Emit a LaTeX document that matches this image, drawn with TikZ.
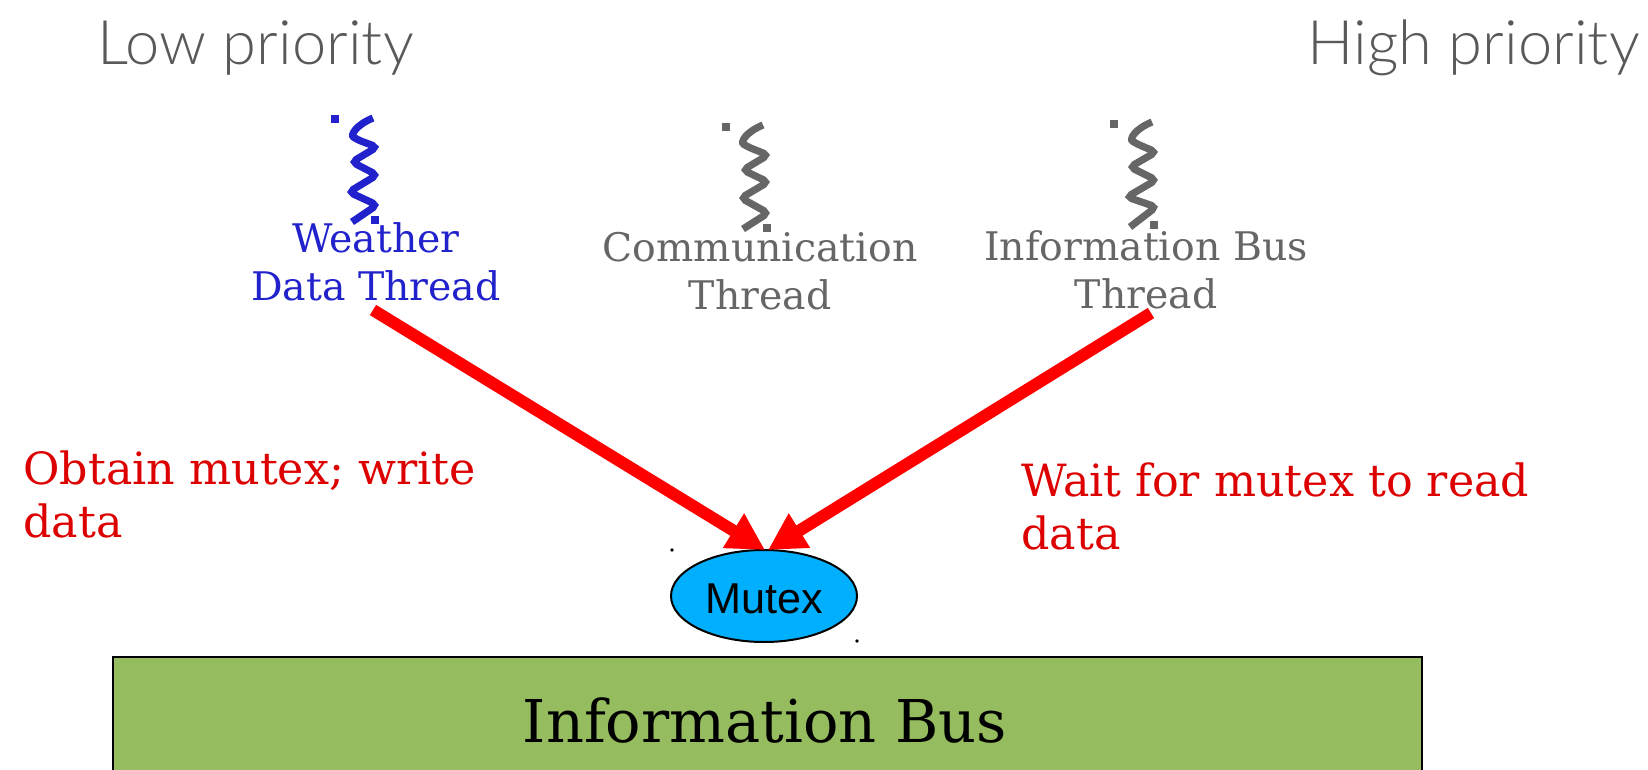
\documentclass[tikz,border=0pt]{standalone}
\usepackage{fontspec}
\setmainfont{DejaVu Serif}
\newfontfamily\lightfont{Lato Light}
\newfontfamily\armfont{Liberation Sans}
\usetikzlibrary{arrows.meta,shapes.geometric}
\definecolor{threadblue}{HTML}{2222CC}
\definecolor{threadgray}{HTML}{666666}
\definecolor{arrowred}{HTML}{FF0000}
\definecolor{labelred}{HTML}{DD0000}
\definecolor{mutexblue}{HTML}{00B0FF}
\definecolor{busgreen}{HTML}{95BC5F}
\tikzset{
 x=0.5pt,y=-0.5pt,
 prio/.style={text=black!65,font=\lightfont\fontsize{30.7}{34}\selectfont,inner sep=0},
 threadlabel/.style={align=center,inner sep=0,font=\fontsize{19.7}{24}\selectfont},
 actlabel/.style={align=left,inner sep=0,text=labelred,font=\fontsize{22.2}{26.5}\selectfont},
 squiggle/.style={line width=3.6pt,rounded corners=2.5pt},
 dotmark/.style={minimum size=4pt,inner sep=0,rectangle},
 bigarrow/.style={line width=6pt,arrowred,-{Triangle[length=18.5pt,width=19pt]}},
 tinydot/.style={circle,fill=black,minimum size=1.8pt,inner sep=0},
}
\begin{document}
\begin{tikzpicture}
\useasboundingbox (0,0) rectangle (1648,770);
\node[prio,anchor=base west] (low) at (97,65) {Low priority};
\node[prio,anchor=base east] (high) at (1640,65) {High priority};
% threads
\draw[squiggle,threadblue] (373,118) .. controls (356,125) and (350,135) .. (358,140) -- (377,147) -- (352,162) -- (377,175) -- (349,192) -- (377,205) -- (352,222);
\node[dotmark,fill=threadblue] (bd1) at (335,119) {};
\node[dotmark,fill=threadblue] (bd2) at (375,220) {};
\node[threadlabel,text=threadblue] (weather) at (376,262) {Weather\\Data Thread};
\draw[squiggle,threadgray] (763,125) .. controls (746,132) and (740,142) .. (748,147) -- (768,155) -- (743,170) -- (768,182) -- (741,198) -- (768,213) -- (743,229);
\node[dotmark,fill=threadgray] (md1) at (726,127) {};
\node[dotmark,fill=threadgray] (md2) at (767,228) {};
\node[threadlabel,text=threadgray] (comm) at (760,271) {Communication\\Thread};
\draw[squiggle,threadgray] (1152,122) .. controls (1135,129) and (1129,139) .. (1137,144) -- (1156,152) -- (1130,167) -- (1156,180) -- (1127,197) -- (1156,207) -- (1130,227);
\node[dotmark,fill=threadgray] (rd1) at (1114,124) {};
\node[dotmark,fill=threadgray] (rd2) at (1154,225) {};
\node[threadlabel,text=threadgray] (info) at (1146,270) {Information Bus\\Thread};
% bus and mutex
\node[draw=black,line width=1pt,fill=busgreen,minimum width=654.5pt,minimum height=60pt,inner sep=0,anchor=north west] (bus) at (112,656) {};
\node[inner sep=0,font=\fontsize{29.5}{32}\selectfont] (buslabel) at (765,720) {Information Bus};
\node[ellipse,draw=black,line width=1pt,fill=mutexblue,minimum width=93pt,minimum height=46pt,inner sep=0] (mutex) at (764,596) {};
\node[inner sep=0,font=\armfont\fontsize{21.6}{24}\selectfont] (mutexlabel) at (764,599) {Mutex};
\node[tinydot] (t1) at (672,550) {};
\node[tinydot] (t2) at (857,641) {};
% arrows
\coordinate (wstart) at (373,310);
\coordinate (istart) at (1151,313);
\coordinate (ltip) at (765,550);
\coordinate (rtip) at (768,550);
\draw[bigarrow] (wstart) -- (ltip);
\draw[bigarrow] (istart) -- (rtip);
\node[actlabel,anchor=west] (obtain) at (23,494) {Obtain mutex; write\\data};
\node[actlabel,anchor=west] (waitl) at (1021,506) {Wait for mutex to read\\data};
\end{tikzpicture}
\end{document}
